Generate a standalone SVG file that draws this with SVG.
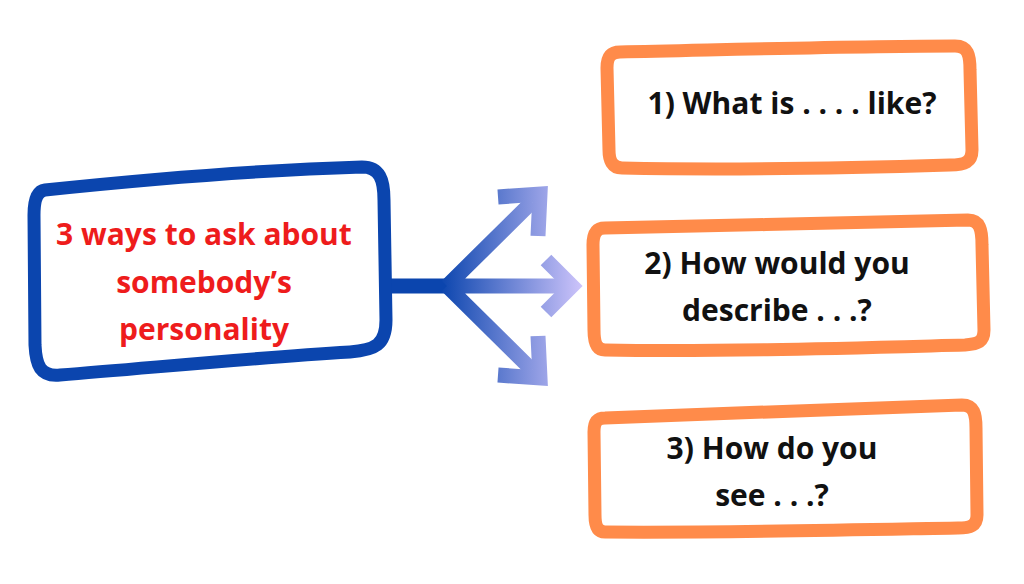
<svg xmlns="http://www.w3.org/2000/svg" width="1024" height="584" viewBox="0 0 1024 584">
<style>
.b{fill:none;stroke-width:13;stroke-linejoin:round}
.o{stroke:#FF8B4A}
.t{font-family:"Open Sans",sans-serif;font-weight:bold;font-size:30px;text-anchor:middle}
.a{fill:none;stroke:url(#g);stroke-width:15;stroke-linejoin:miter}
</style>
<defs>
<linearGradient id="g" gradientUnits="userSpaceOnUse" x1="440" y1="0" x2="590" y2="0">
<stop offset="0" stop-color="#0B45AE"/><stop offset="1" stop-color="#D8CBFF"/>
</linearGradient>
</defs>
<g id="connectors">
<line x1="385" y1="286" x2="452" y2="286" stroke="#0B45AE" stroke-width="15"/>
<path class="a" d="M447 286 L532 202 M447 286 L575 286 M447 286 L532 370"/>
<path class="a" d="M498 197 L540 194 L538 236"/>
<path class="a" d="M546 260 L572 286 L546 312"/>
<path class="a" d="M498 375 L540 378 L538 336"/>
</g>
<g id="center">
<path class="b" stroke="#0B45AE" d="M45 190 C140 180 260 170 362 167 C380 167 384 180 384 200 L386 320 C386 345 375 350 350 352 C250 358 150 368 60 375 C40 377 36 365 35 345 L34 215 C34 198 38 191 45 190 Z"/>
<text class="t" fill="#EE1C1C"><tspan x="204" y="245">3 ways to ask about</tspan><tspan x="204" y="293">somebody’s</tspan><tspan x="204" y="340">personality</tspan></text>
</g>
<g id="q1">
<path class="b o" d="M620 52 C720 50 860 46 955 46 C968 46 970 55 970 70 L972 150 C972 162 965 165 950 165 C850 168 720 170 622 168 C612 168 609 160 609 150 L607 68 C607 58 610 52 620 52 Z"/>
<text class="t" fill="#111"><tspan x="792" y="114">1) What is . . . . like?</tspan></text>
</g>
<g id="q2">
<path class="b o" d="M605 228 C720 226 860 222 968 220 C980 220 982 230 982 245 L984 330 C984 342 978 344 965 345 C850 348 720 352 605 350 C596 350 594 342 594 330 L593 245 C593 234 596 228 605 228 Z"/>
<text class="t" fill="#111"><tspan x="777" y="274">2) How would you</tspan><tspan x="777" y="321">describe . . .?</tspan></text>
</g>
<g id="q3">
<path class="b o" d="M605 418 C720 414 860 408 962 405 C974 405 976 414 976 428 L977 515 C977 526 970 528 958 528 C850 530 720 533 605 532 C597 532 595 525 595 515 L594 432 C594 422 597 418 605 418 Z"/>
<text class="t" fill="#111"><tspan x="772" y="459">3) How do you</tspan><tspan x="772" y="506">see . . .?</tspan></text>
</g>
</svg>
